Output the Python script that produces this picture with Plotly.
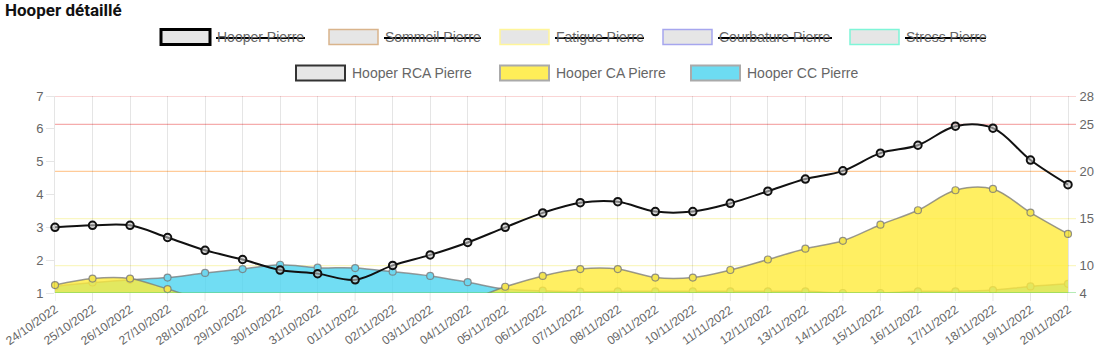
import plotly.graph_objects as go

# ---------------- data ----------------
dates = ["24/10/2022", "25/10/2022", "26/10/2022", "27/10/2022", "28/10/2022", "29/10/2022",
         "30/10/2022", "31/10/2022", "01/11/2022", "02/11/2022", "03/11/2022", "04/11/2022",
         "05/11/2022", "06/11/2022", "07/11/2022", "08/11/2022", "09/11/2022", "10/11/2022",
         "11/11/2022", "12/11/2022", "13/11/2022", "14/11/2022", "15/11/2022", "16/11/2022",
         "17/11/2022", "18/11/2022", "19/11/2022", "20/11/2022"]

hooper_rca = [3.00, 3.06, 3.06, 2.69, 2.30, 2.02, 1.70, 1.59, 1.40, 1.84, 2.16, 2.54, 3.00, 3.44,
              3.75, 3.78, 3.48, 3.48, 3.73, 4.10, 4.47, 4.72, 5.26, 5.50, 6.08, 6.02, 5.05, 4.30]

hooper_ca = [1.24, 1.44, 1.44, 1.12, 0.80, 0.80, 0.80, 0.80, 0.80, 0.80, 0.80, 0.80, 1.19, 1.52,
             1.73, 1.73, 1.47, 1.47, 1.70, 2.02, 2.35, 2.59, 3.08, 3.52, 4.13, 4.17, 3.45, 2.80]

hooper_cc = [1.20, 1.32, 1.40, 1.47, 1.61, 1.73, 1.86, 1.77, 1.76, 1.65, 1.52, 1.33, 1.12, 1.07,
             1.04, 1.05, 1.05, 1.05, 1.05, 1.05, 1.05, 1.00, 1.00, 1.05, 1.05, 1.09, 1.20, 1.28]

left_range = [1, 7]
right_range = [7.1, 28]
right_tickvals = [7.1, 10, 15, 20, 25, 28]
right_ticktext = ["4", "10", "15", "20", "25", "28"]
thresholds = [28, 25, 20, 15, 10]
threshold_colors = ["rgba(235,90,90,0.5)", "rgba(235,90,90,0.5)", "rgba(255,160,70,0.55)",
                    "rgba(240,232,80,0.35)", "rgba(240,232,80,0.35)"]

legend_row1 = ["Hooper Pierre", "Sommeil Pierre", "Fatigue Pierre", "Courbature Pierre", "Stress Pierre"]
legend_row2 = ["Hooper RCA Pierre", "Hooper CA Pierre", "Hooper CC Pierre"]

# ---------------- layout geometry (pixels) ----------------
W, H = 1097, 352
ML, MR, MT, MB = 55, 29, 96, 59
PW, PH = W - ML - MR, H - MT - MB


def pxx(x):
    return (x - ML) / PW


def pxy(y):
    return (H - MB - y) / PH


def visible(vals):
    return [v if v >= left_range[0] else None for v in vals]


YELLOW = "rgba(255,235,59,0.8)"
CYAN = "rgba(77,212,240,0.8)"
GREYLINE = "rgba(120,120,120,0.75)"
GRID = "rgba(0,0,0,0.1)"

fig = go.Figure()

# Hooper CC (drawn first, below)
fig.add_trace(go.Scatter(x=dates, y=hooper_cc, mode="lines+markers", fill="tozeroy", fillcolor=CYAN,
                         line=dict(color=GREYLINE, width=1.5, shape="spline", smoothing=1.0),
                         marker=dict(size=7, color="rgb(110,214,238)", line=dict(color="rgba(120,120,120,0.8)", width=1.2)),
                         showlegend=False, hoverinfo="skip"))
# Hooper CA
fig.add_trace(go.Scatter(x=dates, y=hooper_ca, mode="lines", fill="tozeroy", fillcolor=YELLOW,
                         line=dict(color=GREYLINE, width=1.5, shape="spline", smoothing=1.0),
                         showlegend=False, hoverinfo="skip"))
fig.add_trace(go.Scatter(x=dates, y=visible(hooper_ca), mode="markers", cliponaxis=False,
                         marker=dict(size=7, color="rgb(243,228,80)", line=dict(color="rgba(120,120,120,0.8)", width=1.2)),
                         showlegend=False, hoverinfo="skip"))
# Hooper RCA
fig.add_trace(go.Scatter(x=dates, y=hooper_rca, mode="lines+markers", cliponaxis=False,
                         line=dict(color="#111111", width=2, shape="spline", smoothing=1.0),
                         marker=dict(size=7.5, color="rgba(200,200,200,0.6)", line=dict(color="#111111", width=2)),
                         showlegend=False, hoverinfo="skip"))
# right axis carrier
fig.add_trace(go.Scatter(x=[dates[0]], y=[None], yaxis="y2", mode="markers", showlegend=False, hoverinfo="skip"))

shapes = []
# threshold lines (right axis), extended a little beyond the right edge as tick marks
for val, col in zip(thresholds, threshold_colors):
    shapes.append(dict(type="line", xref="paper", yref="y2", x0=0, x1=1 + 8 / PW, y0=val, y1=val,
                       line=dict(color=col, width=1.2), layer="below"))
shapes.append(dict(type="line", xref="paper", yref="y2", x0=0, x1=1 + 8 / PW, y0=right_range[0], y1=right_range[0],
                   line=dict(color="rgba(90,210,90,0.6)", width=1.5), layer="above"))
# category tick marks below the axis (grid-line extensions)
for d in dates:
    shapes.append(dict(type="line", xref="x", yref="paper", x0=d, x1=d, y0=0, y1=-8 / PH,
                       line=dict(color=GRID, width=1), layer="below"))

annotations = []
# title
annotations.append(dict(text="<b>Hooper détaillé</b>", xref="paper", yref="paper", x=pxx(3), y=pxy(10),
                        xanchor="left", yanchor="middle", showarrow=False,
                        font=dict(family="Roboto, Arial", size=17, color="#111")))

TICKFONT = dict(family="Liberation Sans, Arial", size=13, color="#666666")
XTICKFONT = dict(family="Liberation Sans, Arial", size=12, color="#666666")
# rotated category labels
for d in dates:
    annotations.append(dict(text=d, xref="x", yref="paper", x=d, y=pxy(301), xanchor="right", yanchor="top",
                            xshift=7, textangle=-35, showarrow=False, font=XTICKFONT, borderpad=0))

# custom legend
row1_box_x = [161, 329, 500, 663, 850]
row1_text_end = [305, 481, 644, 832, 986]
row1_border = [("#000000", 3), ("#D9B48C", 1.5), ("#FFF59A", 1.5), ("#A6A6EE", 1.5), ("#7FF5D8", 1.5)]
row2_box_x = [296, 500, 691]
row2_style = [("#e6e6e6", "#333333", 2), ("#FFEE58", "#aaaaaa", 2), ("#6DDCF2", "#aaaaaa", 2)]

BOXW, BOXH = 49, 15
LEGFONT = dict(family="Liberation Sans, Arial", size=14, color="#666666")


def legend_item(name, bx, yc, fill, border, bw):
    shapes.append(dict(type="rect", xref="paper", yref="paper", x0=pxx(bx), x1=pxx(bx + BOXW),
                       y0=pxy(yc - BOXH / 2), y1=pxy(yc + BOXH / 2), fillcolor=fill,
                       line=dict(color=border, width=bw), layer="above"))
    annotations.append(dict(text=name, xref="paper", yref="paper", x=pxx(bx + 54), y=pxy(yc),
                            xanchor="left", yanchor="middle", showarrow=False, font=LEGFONT))


for name, bx, tend, (bc, bw) in zip(legend_row1, row1_box_x, row1_text_end, row1_border):
    legend_item(name, bx, 37, "#e6e6e6", bc, bw)
    shapes.append(dict(type="line", xref="paper", yref="paper", x0=pxx(bx + 55), x1=pxx(tend),
                       y0=pxy(38), y1=pxy(38), line=dict(color="#000000", width=2.2), layer="above"))

for name, bx, (fc, bc, bw) in zip(legend_row2, row2_box_x, row2_style):
    legend_item(name, bx, 73, fc, bc, bw)

fig.update_layout(
    width=W, height=H,
    margin=dict(l=ML, r=MR, t=MT, b=MB, pad=0, autoexpand=False),
    paper_bgcolor="white", plot_bgcolor="white",
    showlegend=False,
    xaxis=dict(type="category", range=[0, len(dates) - 1], showgrid=True, gridcolor=GRID, gridwidth=1,
               ticks="", showticklabels=False,
               zeroline=False, showline=False, fixedrange=True, automargin=False),
    yaxis=dict(range=left_range, dtick=1, showgrid=False, zeroline=False, ticks="outside", ticklen=8,
               tickcolor=GRID, tickfont=TICKFONT, showline=True, linecolor=GRID, fixedrange=True,
               automargin=False),
    yaxis2=dict(range=right_range, overlaying="y", side="right", tickvals=right_tickvals,
                ticktext=right_ticktext, showgrid=False, zeroline=False, ticks="outside", ticklen=8,
                tickcolor="rgba(0,0,0,0)", tickfont=TICKFONT, showline=True, linecolor=GRID, fixedrange=True,
                automargin=False),
    shapes=shapes,
    annotations=annotations,
)

fig.write_html("out.html", config=dict(displayModeBar=False))
